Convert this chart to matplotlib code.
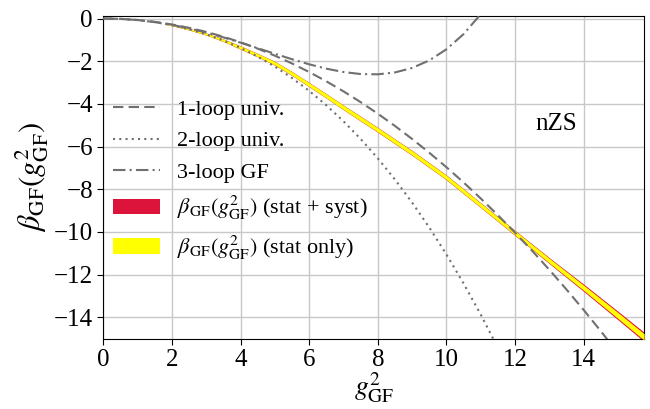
import matplotlib
matplotlib.use("Agg")
import matplotlib.pyplot as plt
from matplotlib.patches import Patch
from matplotlib.lines import Line2D

plt.rcParams['font.family'] = ['Liberation Serif', 'DejaVu Serif']
plt.rcParams['mathtext.fontset'] = 'stix'

# perturbative curves
pt_x = [0, 0.5, 1, 1.5, 2, 2.5, 3, 3.5, 4, 4.5, 5, 5.5, 6, 6.5, 7, 7.5, 8,
        8.5, 9, 9.5, 10, 10.5, 11, 11.5, 12, 12.5, 13, 13.5, 14, 14.5, 15]
one_loop = [0, -0.017, -0.070, -0.157, -0.279, -0.436, -0.627, -0.854, -1.115,
            -1.411, -1.743, -2.108, -2.509, -2.945, -3.415, -3.921, -4.461,
            -5.036, -5.646, -6.290, -6.970, -7.684, -8.434, -9.218, -10.037,
            -10.891, -11.779, -12.703, -13.661, -14.654, -15.68]
two_loop_x = pt_x[:24]
two_loop = [0, -0.018, -0.074, -0.171, -0.312, -0.500, -0.737, -1.029, -1.377,
            -1.784, -2.254, -2.789, -3.393, -4.068, -4.818, -5.646, -6.555,
            -7.548, -8.628, -9.797, -11.060, -12.419, -13.878, -15.439]
three_loop_x = pt_x[:24]
three_loop = [0, -0.018, -0.073, -0.166, -0.297, -0.462, -0.659, -0.885, -1.131,
              -1.390, -1.653, -1.909, -2.146, -2.351, -2.508, -2.602, -2.615,
              -2.526, -2.316, -1.962, -1.440, -0.726, 0.207, 1.387]

# non-perturbative band
band_x = [1.8, 2, 2.5, 3, 3.5, 4, 4.5, 5, 5.5, 6, 6.5, 7, 8, 9, 10, 11, 12,
          13, 14, 15, 15.76]
band_c = [-0.25, -0.31, -0.50, -0.73, -1.02, -1.36, -1.72, -2.10, -2.58, -3.10,
          -3.63, -4.17, -5.22, -6.30, -7.45, -8.75, -10.05, -11.35, -12.62,
          -13.92, -14.92]
stat_half = [0.02, 0.025, 0.035, 0.045, 0.055, 0.07, 0.075, 0.08, 0.085, 0.09,
             0.095, 0.10, 0.10, 0.10, 0.10, 0.10, 0.10, 0.11, 0.12, 0.14, 0.15]
tot_half = [0.025, 0.03, 0.04, 0.05, 0.06, 0.08, 0.085, 0.09, 0.095, 0.10,
            0.105, 0.11, 0.115, 0.115, 0.115, 0.115, 0.12, 0.14, 0.17, 0.20, 0.22]

labels = ['1-loop univ.', '2-loop univ.', '3-loop GF',
          r'$\beta_{\rm GF}(g^2_{\rm GF})$ (stat + syst)',
          r'$\beta_{\rm GF}(g^2_{\rm GF})$ (stat only)']

fig = plt.figure(figsize=(6.5, 4.09), dpi=100)
ax = fig.add_axes([0.159, 0.172, 0.832, 0.789])

lo_t = [c - h for c, h in zip(band_c, tot_half)]
hi_t = [c + h for c, h in zip(band_c, tot_half)]
lo_s = [c - h for c, h in zip(band_c, stat_half)]
hi_s = [c + h for c, h in zip(band_c, stat_half)]
ax.fill_between(band_x, lo_t, hi_t, color='crimson', lw=0, zorder=2)
ax.fill_between(band_x, lo_s, hi_s, color='yellow', lw=0, zorder=3)

gcol = '#707070'
ax.plot(pt_x, one_loop, ls=(0, (5, 2.5)), color=gcol, lw=1.5, zorder=4)
ax.plot(two_loop_x, two_loop, ls=(0, (1, 2)), color=gcol, lw=1.5, zorder=4)
ax.plot(three_loop_x, three_loop, ls=(0, (6, 2, 1, 2)), color=gcol, lw=1.5, zorder=4)

ax.set_xlim(0, 15.76)
ax.set_ylim(-15, 0.12)
ax.set_xticks([0, 2, 4, 6, 8, 10, 12, 14])
ax.set_yticks([0, -2, -4, -6, -8, -10, -12, -14])
ax.tick_params(labelsize=18, length=4)
ax.grid(True, color='#c8c8c8', lw=1.0)
ax.set_axisbelow(True)

ax.set_xlabel(r'$g^2_{\rm GF}$', fontsize=20, labelpad=0)
ax.set_ylabel(r'$\beta_{\rm GF}(g^2_{\rm GF})$', fontsize=22, labelpad=2)

ax.text(13.2, -4.95, 'nZS', fontsize=18, ha='center', va='center')

handles = [Line2D([], [], ls=(0, (5, 2.5)), color=gcol, lw=1.5),
           Line2D([], [], ls=(0, (1, 2)), color=gcol, lw=1.5),
           Line2D([], [], ls=(0, (6, 2, 1, 2)), color=gcol, lw=1.5),
           Patch(facecolor='crimson', edgecolor='none'),
           Patch(facecolor='yellow', edgecolor='none')]
ax.legend(handles, labels, loc='upper left', bbox_to_anchor=(-0.01, 0.79),
          frameon=False, fontsize=16, handlelength=2.1, handletextpad=0.75,
          labelspacing=0.5, borderaxespad=0.3)

fig.savefig('out.png', dpi=100)
